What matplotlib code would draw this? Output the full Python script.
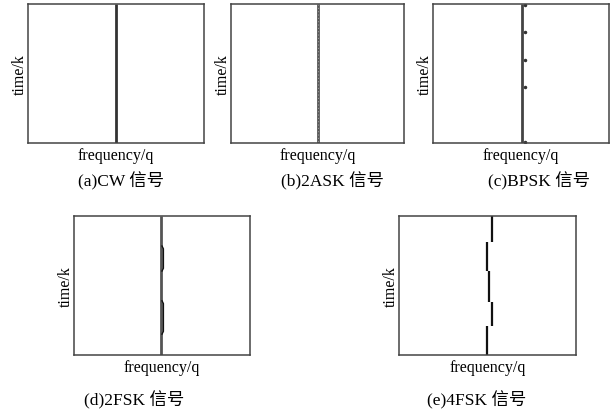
import numpy as np
import matplotlib
matplotlib.use('Agg')
import matplotlib.pyplot as plt

plt.rcParams['font.family'] = ['Liberation Serif', 'Noto Sans CJK SC']

# Data: normalised frequency of the ridge for each time segment (t from top = 0)
cw_t = [0.0, 1.0]
cw_f = [0.500]

ask_t = [0.0, 1.0]
ask_f = [0.503]

bpsk_t = [0.0, 1.0]
bpsk_f = [0.506]
bpsk_jump_t = [0.01, 0.20, 0.40, 0.60, 0.99]
bpsk_jump_f = [0.522, 0.522, 0.522, 0.522, 0.522]

# 2FSK: main tone over the whole time span plus the second tone segments
fsk2_t = [0.0, 1.0]
fsk2_f = [0.494]
fsk2_hop_t = [(0.216, 0.396), (0.61, 0.85)]
fsk2_hop_f = [0.508, 0.508]

fsk4_t = [0.0, 0.187, 0.393, 0.62, 0.79, 1.0]
fsk4_f = [0.524, 0.495, 0.510, 0.524, 0.495]

captions = ['(a)CW 信号', '(b)2ASK 信号', '(c)BPSK 信号', '(d)2FSK 信号', '(e)4FSK 信号']

W, H = 615, 414
fig = plt.figure(figsize=(W / 100, H / 100), dpi=100)


def px_axes(x0, x1, y0, y1):
    return fig.add_axes([x0 / W, 1 - y1 / H, (x1 - x0) / W, (y1 - y0) / H])


def style(ax):
    ax.set_xlim(0, 1)
    ax.set_ylim(1, 0)
    ax.set_xticks([])
    ax.set_yticks([])
    for s in ax.spines.values():
        s.set_color('#444444')
        s.set_linewidth(1.1)
    ax.set_xlabel('frequency/q', fontsize=11.5, labelpad=3)
    ax.set_ylabel('time/k', fontsize=11.5, labelpad=0)


def draw_segments(ax, t, f, color, lw, **kw):
    for i in range(len(f)):
        ax.plot([f[i], f[i]], [t[i], t[i + 1]], color=color, lw=lw,
                solid_capstyle='butt', **kw)


def cap(x, y, s):
    fig.text(x / W, 1 - y / H, s, ha='center', va='center', fontsize=12.5)


# (a) CW
ax = px_axes(28, 204, 5, 144)
draw_segments(ax, cw_t, cw_f, '#333333', 2.0)
style(ax)
cap(121, 181, captions[0])

# (b) 2ASK
ax = px_axes(231, 404, 5, 144)
draw_segments(ax, ask_t, ask_f, '#555555', 2.0)
draw_segments(ax, ask_t, ask_f, '#999999', 0.8, linestyle=(0, (1, 2)))
style(ax)
cap(332, 181, captions[1])

# (c) BPSK
ax = px_axes(433, 609, 5, 144)
draw_segments(ax, bpsk_t, bpsk_f, '#444444', 2.0)
ax.plot(bpsk_jump_f, bpsk_jump_t, ls='none', marker='.', ms=3, color='#333333')
style(ax)
cap(539, 181, captions[2])

# (d) 2FSK
ax = px_axes(74, 250, 217, 356)
draw_segments(ax, fsk2_t, fsk2_f, '#555555', 2.0)
for (t0, t1), f in zip(fsk2_hop_t, fsk2_hop_f):
    ax.plot([f - 0.008, f, f, f - 0.008], [t0, t0 + 0.02, t1 - 0.02, t1],
            color='#111111', lw=1.0)
style(ax)
cap(134, 400, captions[3])

# (e) 4FSK
ax = px_axes(399, 576, 217, 356)
draw_segments(ax, fsk4_t, fsk4_f, '#111111', 1.6)
style(ax)
cap(477, 400, captions[4])

fig.savefig('out.png', dpi=100)
